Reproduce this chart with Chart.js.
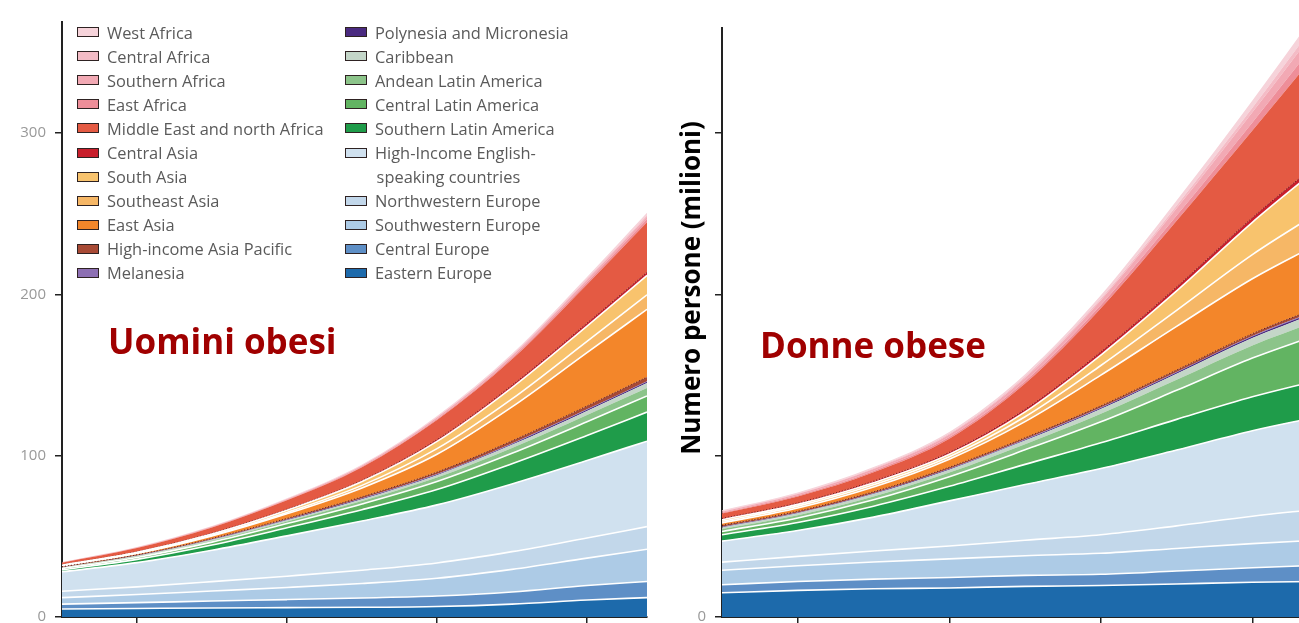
<!DOCTYPE html>
<html>
<head>
<meta charset="utf-8">
<script src="https://cdn.jsdelivr.net/npm/chart.js@4.4.0/dist/chart.umd.min.js"></script>
<style>
  body { margin: 0; width: 1299px; height: 623px; overflow: hidden; background: #fff; position: relative; }
  .box { position: absolute; top: 0; }
  .legend { position: absolute; top: 20px; font-family: 'Open Sans', sans-serif; font-size: 16.4px; color: #5a5a5a; }
  .row { height: 24.1px; display: flex; align-items: center; white-space: nowrap; }
  .sw { width: 20px; height: 8px; border: 1.8px solid #2e2222; margin-right: 8px; flex: none; }
  .ttl { position: absolute; font-family: 'Open Sans', sans-serif; font-weight: bold; font-size: 35px; line-height: 35px; color: #a00000; white-space: nowrap; }
  .ytitle { position: absolute; width: 400px; height: 30px; line-height: 30px; text-align: center; font-family: 'Open Sans', sans-serif; font-weight: bold; font-size: 26px; color: #000; transform: rotate(-90deg); white-space: nowrap; }
</style>
</head>
<body>
<div class="box" style="left:0"><canvas id="men" width="660" height="660"></canvas></div>
<div class="box" style="left:660px"><canvas id="women" width="665" height="660"></canvas></div>
<div class="legend" id="legLeft" style="left:77px"></div>
<div class="legend" id="legRight" style="left:345px"></div>
<div class="ttl" style="left:108px;top:323px">Uomini obesi</div>
<div class="ttl" style="left:760px;top:327px">Donne obese</div>
<div class="ytitle" style="left:490px;top:273px">Numero persone (milioni)</div>
<script>
const years = [1975, 1980, 1985, 1990, 1995, 2000, 2005, 2010, 2014];
const xTicks = [1980, 1990, 2000, 2010];
const yTicks = [0, 100, 200, 300];

// legend order = top of the stack first
const regions = ['West Africa', 'Central Africa', 'Southern Africa', 'East Africa',
  'Middle East and north Africa', 'Central Asia', 'South Asia', 'Southeast Asia', 'East Asia',
  'High-income Asia Pacific', 'Melanesia', 'Polynesia and Micronesia', 'Caribbean',
  'Andean Latin America', 'Central Latin America', 'Southern Latin America',
  'High-income English-speaking countries', 'Northwestern Europe', 'Southwestern Europe',
  'Central Europe', 'Eastern Europe'];

// obese men, millions
const menWestAfrica = [0.1, 0.15, 0.2, 0.3, 0.4, 0.6, 0.9, 1.2, 1.5];
const menCentralAfrica = [0.05, 0.07, 0.1, 0.15, 0.2, 0.3, 0.4, 0.55, 0.7];
const menSouthernAfrica = [0.2, 0.3, 0.4, 0.5, 0.7, 0.9, 1.2, 1.5, 1.8];
const menEastAfrica = [0.1, 0.15, 0.2, 0.3, 0.45, 0.7, 1, 1.4, 1.8];
const menMiddleEast = [1.3, 2.2, 3.5, 5.5, 8, 12, 16, 24, 31];
const menCentralAsia = [0.3, 0.4, 0.5, 0.6, 0.8, 1.2, 1.5, 1.8, 2];
const menSouthAsia = [0.3, 0.5, 0.8, 1.4, 2.4, 4.5, 7, 9.5, 12];
const menSoutheastAsia = [0.2, 0.3, 0.5, 0.9, 1.6, 3.5, 5, 7, 9];
const menEastAsia = [0.4, 0.8, 1.5, 2.8, 5.5, 11, 21, 33, 42];
const menHiAsiaPacific = [0.3, 0.4, 0.5, 0.7, 0.9, 1.2, 1.6, 2.1, 2.5];
const menMelanesia = [0.05, 0.07, 0.1, 0.13, 0.18, 0.23, 0.3, 0.35, 0.4];
const menPolynesia = [0.1, 0.15, 0.2, 0.3, 0.4, 0.5, 0.6, 0.7, 0.8];
const menCaribbean = [0.3, 0.4, 0.6, 0.8, 1.1, 1.5, 2, 2.5, 3];
const menAndean = [0.4, 0.6, 0.9, 1.3, 1.8, 2.4, 3.2, 4.2, 5];
const menCentralLatAm = [0.8, 1.2, 1.8, 2.6, 3.6, 5, 6.5, 8.5, 10];
const menSouthernLatAm = [1.2, 2, 3.2, 5, 7, 9.5, 12.5, 15.5, 18];
const menHiEnglish = [12, 15, 19.5, 25, 30.5, 36, 42, 48, 53];
const menNWEurope = [4, 4.8, 5.8, 7, 8.2, 9.5, 11, 12.5, 14];
const menSWEurope = [4, 5, 6.2, 7.5, 9, 11, 14, 17, 20];
const menCentralEurope = [3, 3.6, 4.3, 5, 5.8, 6.5, 7.5, 9, 10];
const menEasternEurope = [5, 5.3, 5.6, 5.8, 6, 6.5, 8, 10.5, 12];

// obese women, millions
const womenWestAfrica = [0.5, 0.6, 0.75, 1, 1.4, 2, 3, 4.5, 6];
const womenCentralAfrica = [0.3, 0.35, 0.45, 0.6, 0.8, 1, 1.8, 2.8, 4];
const womenSouthernAfrica = [0.7, 0.9, 1.2, 1.6, 2.2, 3, 4.5, 6.3, 8];
const womenEastAfrica = [0.5, 0.6, 0.8, 1, 1.4, 2, 3.2, 5, 7];
const womenMiddleEast = [3, 4, 5.5, 8.5, 16, 27, 41, 54, 68];
const womenCentralAsia = [0.8, 0.9, 1, 1.2, 1.6, 2, 2.5, 2.9, 3.2];
const womenSouthAsia = [1, 1.1, 1.3, 1.5, 3, 6.5, 12, 20, 27];
const womenSoutheastAsia = [1, 1.1, 1.3, 1.5, 3, 6, 10, 15, 19];
const womenEastAsia = [1.5, 2, 3, 5, 10, 19, 27, 34, 39];
const womenHiAsiaPacific = [0.8, 0.8, 0.85, 0.9, 0.95, 1, 1.2, 1.4, 1.5];
const womenMelanesia = [0.2, 0.2, 0.22, 0.25, 0.28, 0.3, 0.38, 0.45, 0.5];
const womenPolynesia = [0.3, 0.32, 0.35, 0.4, 0.5, 0.6, 0.75, 0.9, 1];
const womenCaribbean = [1, 1.2, 1.5, 1.8, 2.3, 3, 3.8, 4.6, 5.2];
const womenAndean = [1.5, 1.7, 2, 2.5, 3.5, 5, 6.5, 7.8, 8.5];
const womenCentralLatAm = [2, 2.8, 4, 6, 9, 13, 18, 24, 28];
const womenSouthernLatAm = [4, 5, 6.8, 9, 12.5, 16, 19, 21, 22.5];
const womenHiEnglish = [13, 16, 21, 28, 34.5, 41, 47, 53, 57];
const womenNWEurope = [5, 5.8, 6.8, 8, 9.6, 11.5, 14, 17, 19];
const womenSWEurope = [9, 9.8, 10.6, 11.5, 12.2, 13, 14, 15, 15.5];
const womenCentralEurope = [5, 5.5, 6, 6.5, 6.8, 7, 8, 9, 10];
const womenEasternEurope = [15, 16.5, 17.5, 18, 19, 19.5, 20.5, 21.5, 22];

const menSeries = [menWestAfrica, menCentralAfrica, menSouthernAfrica, menEastAfrica, menMiddleEast,
  menCentralAsia, menSouthAsia, menSoutheastAsia, menEastAsia, menHiAsiaPacific, menMelanesia,
  menPolynesia, menCaribbean, menAndean, menCentralLatAm, menSouthernLatAm, menHiEnglish,
  menNWEurope, menSWEurope, menCentralEurope, menEasternEurope];
const womenSeries = [womenWestAfrica, womenCentralAfrica, womenSouthernAfrica, womenEastAfrica, womenMiddleEast,
  womenCentralAsia, womenSouthAsia, womenSoutheastAsia, womenEastAsia, womenHiAsiaPacific, womenMelanesia,
  womenPolynesia, womenCaribbean, womenAndean, womenCentralLatAm, womenSouthernLatAm, womenHiEnglish,
  womenNWEurope, womenSWEurope, womenCentralEurope, womenEasternEurope];

const colors = ['#f6d3da', '#f4bcc6', '#f2a9b4', '#ee8e99', '#e45a43', '#c81e2b', '#f8c36d', '#f6b766',
  '#f3862a', '#a84a35', '#8d6fb3', '#4a2a80', '#c4d6c8', '#8cc48a', '#62b462', '#1f9c4a',
  '#d0e1ef', '#c2d7ea', '#adcbe6', '#5e8fc6', '#1d6aab'];
// top edge of each band: 'w' white line, 'd' dotted dark line, '' none
const edges = ['', '', '', '', '', 'd', 'w', 'w', 'w', 'd', '', '', '', '', 'w', 'w', 'w', 'w', 'w', 'w', 'w'];

function buildLegend() {
  const left = document.getElementById('legLeft');
  const right = document.getElementById('legRight');
  regions.forEach((name, i) => {
    const target = i < 11 ? left : right;
    const label = name === 'High-income English-speaking countries' ? 'High-Income English-' : name;
    target.insertAdjacentHTML('beforeend',
      `<div class="row"><span class="sw" style="background:${colors[i]}"></span>${label}</div>`);
    if (label !== name) {
      target.insertAdjacentHTML('beforeend', '<div class="row" style="padding-left:31.6px">speaking countries</div>');
    }
  });
}
buildLegend();

function makeDatasets(series) {
  const out = [];
  for (let i = series.length - 1; i >= 0; i--) {
    const e = edges[i];
    out.push({
      label: regions[i],
      data: years.map((yr, k) => ({ x: yr, y: series[i][k] })),
      backgroundColor: colors[i],
      borderColor: e === 'w' ? '#ffffff' : e === 'd' ? '#5a1a12' : 'rgba(0,0,0,0)',
      borderWidth: e === 'w' ? 1.6 : 1,
      borderDash: e === 'd' ? [1, 2] : [],
      fill: out.length === 0 ? 'origin' : '-1',
      pointRadius: 0,
      cubicInterpolationMode: 'monotone'
    });
  }
  return out;
}

const tickFont = { family: 'Open Sans', size: 15 };

function makeChart(id, series, yMax, padTop, padRight, onlyZero) {
  return new Chart(document.getElementById(id), {
    type: 'line',
    data: { datasets: makeDatasets(series) },
    options: {
      responsive: false,
      animation: false,
      layout: { padding: { top: padTop, right: padRight, left: 0, bottom: 0 } },
      plugins: { legend: { display: false }, tooltip: { enabled: false } },
      scales: {
        x: {
          type: 'linear', min: 1975, max: 2014,
          afterBuildTicks: s => { s.ticks = xTicks.map(v => ({ value: v })); },
          afterFit: s => { s.height = 43; },
          grid: { drawOnChartArea: false, tickLength: 6, color: '#222', lineWidth: 1.5 },
          border: { color: '#222', width: 2 },
          ticks: { font: tickFont, color: '#999' }
        },
        y: {
          stacked: true, min: 0, max: yMax,
          afterBuildTicks: s => { s.ticks = yTicks.map(v => ({ value: v })); },
          afterFit: s => { s.width = 62; },
          grid: { drawOnChartArea: false, tickLength: 7, color: '#222', lineWidth: 1.5 },
          border: { color: '#222', width: 2 },
          ticks: {
            font: tickFont, color: '#999', padding: 9,
            callback: v => (onlyZero && v !== 0) ? '' : v
          }
        }
      }
    }
  });
}

makeChart('men', menSeries, 368.8, 22, 13, false);
makeChart('women', womenSeries, 365.1, 28, 12, true);
</script>
</body>
</html>
